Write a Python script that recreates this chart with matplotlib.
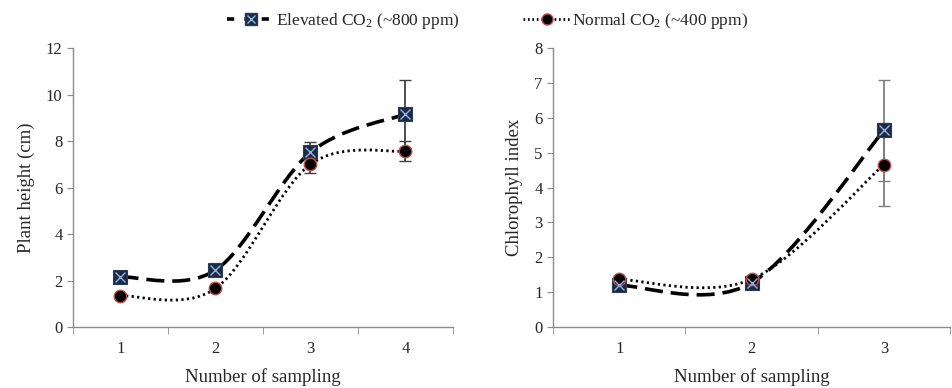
import matplotlib
matplotlib.use("Agg")
import matplotlib.pyplot as plt
import numpy as np
from matplotlib.path import Path
from matplotlib.patches import PathPatch
from matplotlib.lines import Line2D

plt.rcParams['font.family'] = ['Liberation Serif', 'DejaVu Serif']
plt.rcParams['mathtext.fontset'] = 'custom'
plt.rcParams['mathtext.rm'] = 'Liberation Serif'
plt.rcParams['mathtext.it'] = 'Liberation Serif:italic'

# ---- data ----
height_samples = [1, 2, 3, 4]
height_elevated = [2.16, 2.45, 7.51, 9.16]
height_elevated_err = [0.0, 0.0, 0.45, 1.46]
height_normal = [1.35, 1.66, 7.00, 7.57]
height_normal_err = [0.0, 0.0, 0.36, 0.42]

chl_samples = [1, 2, 3]
chl_elevated = [1.20, 1.27, 5.64]
chl_elevated_err = [0.0, 0.0, 1.44]
chl_normal = [1.37, 1.37, 4.66]
chl_normal_err = [0.0, 0.0, 1.19]

label_elev = r'Elevated CO$_2$ (~800 ppm)'
label_norm = r'Normal CO$_2$ (~400 ppm)'

TXT = '#262626'
AX = '#8c8c8c'
SQ_FACE = '#1c2a44'
SQ_X = '#8db3e2'
CIRC_EDGE = '#c0504d'


def smooth_path(xs, ys):
    pts = np.column_stack([xs, ys]).astype(float)
    n = len(pts)
    verts = [pts[0]]
    codes = [Path.MOVETO]
    for i in range(n - 1):
        p_prev = pts[i - 1] if i > 0 else pts[i]
        p0 = pts[i]
        p1 = pts[i + 1]
        p_next = pts[i + 2] if i + 2 < n else pts[i + 1]
        c1 = p0 + (p1 - p_prev) / 6.0
        c2 = p1 - (p_next - p0) / 6.0
        verts += [c1, c2, p1]
        codes += [Path.CURVE4] * 3
    return Path(verts, codes)


def draw(ax, xs, elev, elev_err, norm, norm_err, ymax, ylabel, ecol):
    ax.add_patch(PathPatch(smooth_path(xs, elev), fill=False, ec='black', lw=2.6,
                           ls=(0, (5.0, 2.2)), zorder=3))
    ax.add_patch(PathPatch(smooth_path(xs, norm), fill=False, ec='black', lw=2.0,
                           ls=(0, (0.8, 1.2)), zorder=3))
    ax.errorbar(xs, elev, yerr=elev_err, fmt='none', ecolor=ecol, elinewidth=1.3,
                capsize=4, capthick=1.0, zorder=2)
    ax.errorbar(xs, norm, yerr=norm_err, fmt='none', ecolor=ecol, elinewidth=1.3,
                capsize=4, capthick=1.0, zorder=2)
    ax.plot(xs, elev, ls='none', marker='s', ms=10, mfc=SQ_FACE, mec='#2b3a55', mew=0.8, zorder=5)
    ax.plot(xs, elev, ls='none', marker='x', ms=7, mec=SQ_X, mew=1.0, zorder=6)
    ax.plot(xs, norm, ls='none', marker='o', ms=9, mfc='black', mec=CIRC_EDGE, mew=1.0, zorder=5)

    n = len(xs)
    ax.set_xlim(0.5, n + 0.5)
    ax.set_ylim(0, ymax)
    ax.set_xticks(xs)
    ax.set_xticklabels([str(x) for x in xs])
    ax.set_xticks(np.arange(0.5, n + 1.0, 1.0), minor=True)
    ax.tick_params(axis='x', which='major', length=0, pad=10, labelsize=12, labelcolor=TXT)
    ax.tick_params(axis='x', which='minor', length=5, color=AX, direction='out')
    ax.tick_params(axis='y', length=4, color=AX, direction='out', labelsize=12, labelcolor=TXT)
    for s in ['top', 'right']:
        ax.spines[s].set_visible(False)
    for s in ['left', 'bottom']:
        ax.spines[s].set_color(AX)
        ax.spines[s].set_linewidth(1.0)
    ax.set_xlabel('Number of sampling', fontsize=13.5, color=TXT, labelpad=8)
    ax.set_ylabel(ylabel, fontsize=13.5, color=TXT, labelpad=8)


fig = plt.figure(figsize=(9.52, 3.88), dpi=100)
ax1 = fig.add_axes([0.0767, 0.157, 0.399, 0.719])
ax2 = fig.add_axes([0.581, 0.157, 0.417, 0.719])

draw(ax1, height_samples, height_elevated, height_elevated_err, height_normal,
     height_normal_err, 12, 'Plant height (cm)', '#404040')
ax1.set_yticks(np.arange(0, 13, 2))
draw(ax2, chl_samples, chl_elevated, chl_elevated_err, chl_normal,
     chl_normal_err, 8, 'Chlorophyll index', '#7f7f7f')
ax2.set_yticks(np.arange(0, 9, 1))

h1 = (Line2D([], [], color='black', lw=2.6, ls=(0, (2.0, 2.8))),
      Line2D([], [], ls='none', marker='s', ms=9, mfc=SQ_FACE, mec='#2b3a55'),
      Line2D([], [], ls='none', marker='x', ms=6, mec=SQ_X, mew=1.0))
h2 = (Line2D([], [], color='black', lw=2.0, ls=(0, (0.6, 1.0))),
      Line2D([], [], ls='none', marker='o', ms=8, mfc='black', mec=CIRC_EDGE))
fig.legend([h1, h2], [label_elev, label_norm], loc='center', bbox_to_anchor=(0.512, 0.945),
           ncol=2, frameon=False, fontsize=12.5, handlelength=2.8, handletextpad=0.05,
           columnspacing=3.6, labelcolor=TXT)

fig.savefig('out.png', dpi=100)
